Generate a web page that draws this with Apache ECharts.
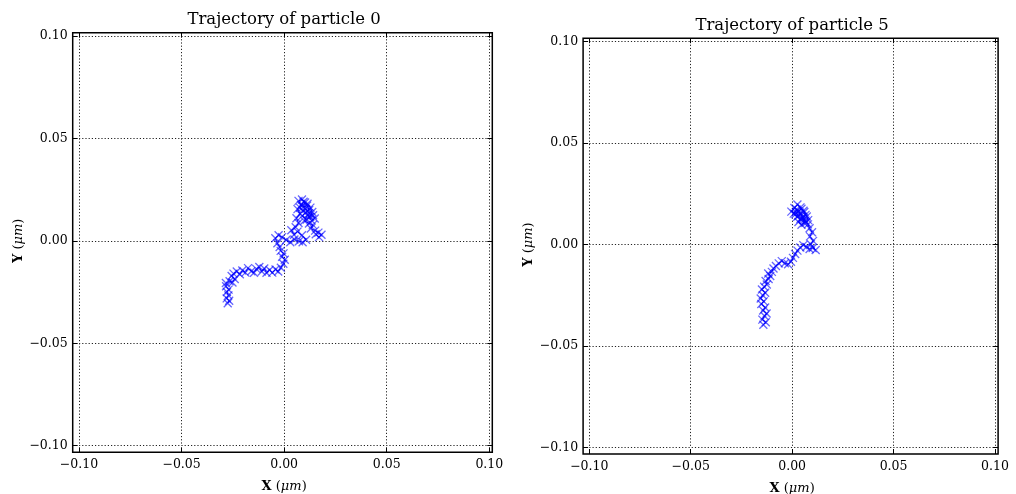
<!DOCTYPE html>
<html>
<head>
<meta charset="utf-8">
<script src="https://cdn.jsdelivr.net/npm/echarts@6.0.0/dist/echarts.min.js"></script>
<style>
  html, body { margin: 0; padding: 0; background: #ffffff; }
  #chart { width: 1016px; height: 494px; }
</style>
</head>
<body>
<div id="chart"></div>
<script>
// Tick positions and their printed labels (shared by both panels and both axes)
const tickValues = [-0.10, -0.05, 0.00, 0.05, 0.10];
const tickLabels = ['\u22120.10', '\u22120.05', '0.00', '0.05', '0.10'];

const panelTitles = ['Trajectory of particle 0', 'Trajectory of particle 5'];

// Particle 0 positions [x, y] in micrometres, in time order
const particle0 = [
  [-0.0275, -0.0305], [-0.0268, -0.0292], [-0.0280, -0.0281], [-0.0272, -0.0266], [-0.0279, -0.0250],
  [-0.0271, -0.0238], [-0.0283, -0.0222], [-0.0284, -0.0206], [-0.0266, -0.0197], [-0.0252, -0.0203],
  [-0.0241, -0.0186], [-0.0256, -0.0172], [-0.0247, -0.0160], [-0.0231, -0.0150], [-0.0216, -0.0163],
  [-0.0204, -0.0145], [-0.0189, -0.0155], [-0.0176, -0.0133], [-0.0160, -0.0148], [-0.0147, -0.0156],
  [-0.0136, -0.0137], [-0.0121, -0.0128], [-0.0109, -0.0150], [-0.0097, -0.0135], [-0.0086, -0.0156],
  [-0.0071, -0.0142], [-0.0058, -0.0155], [-0.0042, -0.0140], [-0.0029, -0.0150], [-0.0016, -0.0131],
  [-0.0004, -0.0112], [0.0003, -0.0092], [-0.0010, -0.0078], [-0.0003, -0.0061], [-0.0017, -0.0049],
  [-0.0022, -0.0030], [-0.0033, -0.0012], [-0.0043, 0.0013], [-0.0027, 0.0027], [-0.0010, 0.0018],
  [0.0010, 0.0004], [0.0030, -0.0007], [0.0050, 0.0007], [0.0072, -0.0002], [0.0090, -0.0007],
  [0.0107, 0.0005], [0.0087, 0.0027], [0.0065, 0.0045], [0.0048, 0.0030], [0.0035, 0.0052],
  [0.0056, 0.0066], [0.0070, 0.0087], [0.0060, 0.0110], [0.0077, 0.0132], [0.0065, 0.0155],
  [0.0082, 0.0175], [0.0070, 0.0195], [0.0087, 0.0202], [0.0102, 0.0187], [0.0093, 0.0166],
  [0.0112, 0.0172], [0.0122, 0.0150], [0.0105, 0.0138], [0.0088, 0.0122], [0.0110, 0.0104],
  [0.0127, 0.0118], [0.0137, 0.0141], [0.0128, 0.0162], [0.0114, 0.0181], [0.0095, 0.0191],
  [0.0078, 0.0161], [0.0091, 0.0145], [0.0106, 0.0156], [0.0121, 0.0134], [0.0141, 0.0125],
  [0.0149, 0.0109], [0.0134, 0.0099], [0.0115, 0.0126], [0.0098, 0.0098], [0.0121, 0.0085],
  [0.0140, 0.0078], [0.0130, 0.0060], [0.0151, 0.0050], [0.0167, 0.0040], [0.0182, 0.0030],
  [0.0170, 0.0018], [0.0154, 0.0032]
];

// Particle 5 positions [x, y] in micrometres, in time order
const particle5 = [
  [-0.0142, -0.0395], [-0.0130, -0.0383], [-0.0147, -0.0370], [-0.0136, -0.0352], [-0.0126, -0.0340],
  [-0.0143, -0.0325], [-0.0133, -0.0310], [-0.0152, -0.0293], [-0.0140, -0.0280], [-0.0155, -0.0266],
  [-0.0145, -0.0250], [-0.0133, -0.0238], [-0.0149, -0.0222], [-0.0138, -0.0208], [-0.0125, -0.0197],
  [-0.0131, -0.0180], [-0.0116, -0.0170], [-0.0108, -0.0155], [-0.0118, -0.0143], [-0.0100, -0.0135],
  [-0.0092, -0.0118], [-0.0080, -0.0106], [-0.0066, -0.0093], [-0.0051, -0.0082], [-0.0036, -0.0092],
  [-0.0020, -0.0097], [-0.0006, -0.0085], [0.0004, -0.0066], [0.0015, -0.0047], [0.0026, -0.0030],
  [0.0040, -0.0015], [0.0055, -0.0003], [0.0070, -0.0012], [0.0086, -0.0022], [0.0101, -0.0017],
  [0.0116, -0.0027], [0.0092, 0.0001], [0.0103, 0.0018], [0.0088, 0.0040], [0.0098, 0.0060],
  [0.0086, 0.0080], [0.0078, 0.0099], [0.0065, 0.0118], [0.0052, 0.0137], [0.0037, 0.0158],
  [0.0022, 0.0172], [0.0008, 0.0152], [0.0024, 0.0136], [0.0041, 0.0126], [0.0031, 0.0111],
  [0.0046, 0.0097], [0.0061, 0.0106], [0.0051, 0.0126], [0.0066, 0.0146], [0.0056, 0.0166],
  [0.0041, 0.0183], [0.0026, 0.0197], [0.0011, 0.0180], [-0.0004, 0.0162], [0.0016, 0.0149],
  [0.0031, 0.0164], [0.0046, 0.0176], [0.0060, 0.0160], [0.0072, 0.0138], [0.0079, 0.0120],
  [0.0070, 0.0108], [0.0056, 0.0120], [0.0041, 0.0150], [0.0030, 0.0140], [0.0018, 0.0160]
];

const trajectories = [particle0, particle5];

// Pixel layout of each panel: the outer frame and the inner tick span (-0.10 .. 0.10)
const panelLayout = [
  { frame: { left: 72.7, top: 32.7, width: 419.6, height: 419.6 },
    inner: { left: 79.0, top: 36.0, width: 410.3, height: 409.7 } },
  { frame: { left: 583.1, top: 38.2, width: 415.0, height: 415.8 },
    inner: { left: 589.3, top: 41.5, width: 405.7, height: 406.0 } }
];

const SERIF = '"DejaVu Serif", "Liberation Serif", serif';
const tickStep = tickValues[1] - tickValues[0];

function tickLabel(value) {
  const i = tickValues.findIndex(t => Math.abs(t - value) < 1e-9);
  return i >= 0 ? tickLabels[i] : '';
}

function baseAxis(gridIndex, position, offset) {
  return {
    type: 'value', gridIndex: gridIndex, position: position, offset: offset,
    min: tickValues[0], max: tickValues[tickValues.length - 1], interval: tickStep,
    axisLine: { show: false, onZero: false },
    axisTick: { show: true, inside: true, length: 5, lineStyle: { color: '#000', width: 1 } },
    axisLabel: { show: false },
    splitLine: { show: false }
  };
}

const grids = [];
const xAxes = [];
const yAxes = [];
const series = [];

// inner grids carry the data axes
panelLayout.forEach((p) => {
  const g = p.inner;
  grids.push({ left: g.left, top: g.top, width: g.width, height: g.height,
    containLabel: false, outerBoundsMode: 'none' });
});
// outer grids draw the frame
panelLayout.forEach((p) => {
  const f = p.frame;
  grids.push({ left: f.left, top: f.top, width: f.width, height: f.height,
    show: true, borderColor: '#000', borderWidth: 1.5, backgroundColor: 'transparent',
    containLabel: false, outerBoundsMode: 'none' });
});

const dotted = { show: true, lineStyle: { color: '#222', width: 1, type: [1.2, 2] } };
const xLabelStyle = { show: true, color: '#000', fontFamily: SERIF, fontSize: 12.5, margin: 6,
  formatter: tickLabel };
const yLabelStyle = { show: true, color: '#000', fontFamily: SERIF, fontSize: 12.5, margin: 5,
  formatter: tickLabel };
const nameStyle = { color: '#000', fontFamily: SERIF, fontSize: 13,
  rich: { b: { fontFamily: SERIF, fontSize: 13, fontWeight: 'bold', color: '#000' },
          i: { fontFamily: SERIF, fontSize: 13, fontStyle: 'italic', color: '#000' } } };

panelLayout.forEach((p, i) => {
  const f = p.frame, g = p.inner;
  const offTop = g.top - f.top;
  const offBottom = (f.top + f.height) - (g.top + g.height);
  const offLeft = g.left - f.left;
  const offRight = (f.left + f.width) - (g.left + g.width);

  // bottom x axis: labels, grid lines, axis name
  const xb = baseAxis(i, 'bottom', offBottom);
  xb.axisLabel = xLabelStyle;
  xb.splitLine = dotted;
  xb.name = '{b|X} ({i|\u03bcm})';
  xb.nameLocation = 'middle';
  xb.nameGap = 28;
  xb.nameTextStyle = nameStyle;
  xAxes.push(xb);

  // top x axis: ticks and the panel title
  const xt = baseAxis(i, 'top', offTop);
  xt.name = panelTitles[i];
  xt.nameLocation = 'middle';
  xt.nameGap = 4;
  xt.nameTextStyle = { color: '#000', fontFamily: SERIF, fontSize: 16.5, verticalAlign: 'bottom' };
  xAxes.push(xt);

  // left y axis: labels, grid lines, axis name
  const yl = baseAxis(i, 'left', offLeft);
  yl.axisLabel = yLabelStyle;
  yl.splitLine = dotted;
  yl.name = '{b|Y} ({i|\u03bcm})';
  yl.nameLocation = 'middle';
  yl.nameRotate = 90;
  yl.nameGap = 48;
  yl.nameTextStyle = nameStyle;
  yAxes.push(yl);

  // right y axis: ticks only
  yAxes.push(baseAxis(i, 'right', offRight));

  series.push({
    type: 'line',
    xAxisIndex: i * 2,
    yAxisIndex: i * 2,
    data: trajectories[i],
    symbol: 'path://M0,0L10,10M10,0L0,10',
    symbolSize: 8,
    showSymbol: true,
    showAllSymbol: true,
    clip: false,
    lineStyle: { color: '#0000ff', width: 1 },
    itemStyle: { color: 'rgba(0,0,255,0)', borderColor: 'rgba(0,0,255,0.6)', borderWidth: 1.3 },
    emphasis: { disabled: true },
    animation: false,
    z: 3
  });
});

// hidden axes for the frame grids
[2, 3].forEach(gi => {
  xAxes.push({ type: 'value', gridIndex: gi, show: false, min: 0, max: 1 });
  yAxes.push({ type: 'value', gridIndex: gi, show: false, min: 0, max: 1 });
});

const chart = echarts.init(document.getElementById('chart'), null, { renderer: 'canvas' });
chart.setOption({
  backgroundColor: '#ffffff',
  animation: false,
  grid: grids,
  xAxis: xAxes,
  yAxis: yAxes,
  series: series
});
</script>
</body>
</html>
